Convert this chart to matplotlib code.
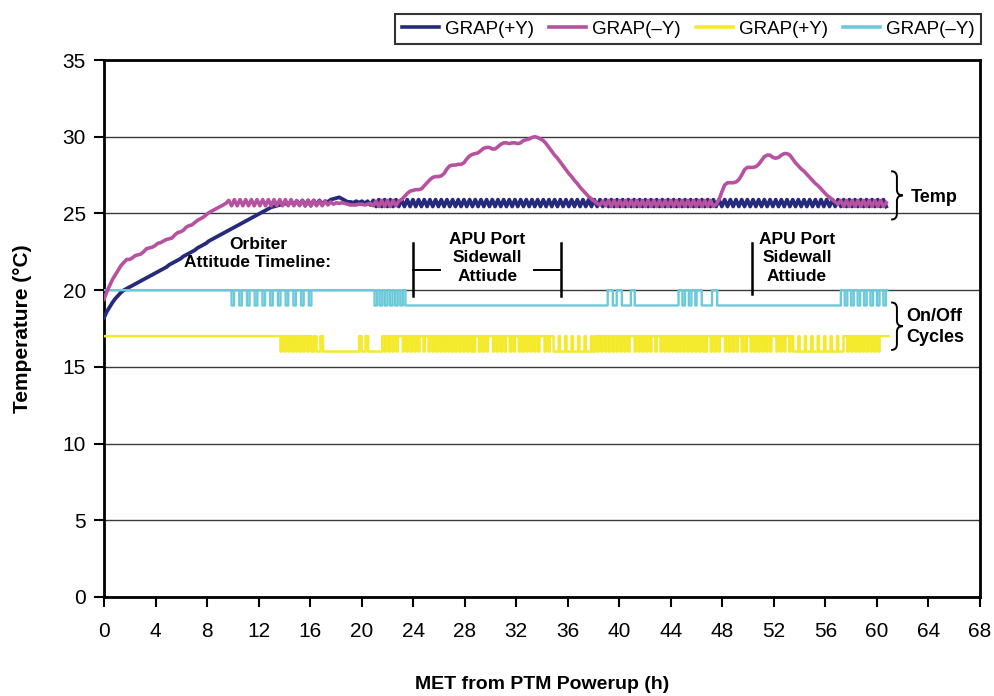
import numpy as np
import matplotlib
matplotlib.use('Agg')
import matplotlib.pyplot as plt
from matplotlib.path import Path
from matplotlib.patches import PathPatch
from matplotlib.lines import Line2D

plt.rcParams['font.family'] = ['Liberation Sans Narrow', 'Liberation Sans', 'DejaVu Sans']

# temperature traces, one reading every DT hours from MET 0
DT = 0.22
grap_py_temp = [
    18.2, 18.6, 18.9, 19.2, 19.45, 19.65, 19.85, 20.0, 20.1, 20.2,
    20.3, 20.4, 20.5, 20.6, 20.7, 20.8, 20.9, 21.0, 21.1, 21.2,
    21.3, 21.4, 21.5, 21.65, 21.75, 21.85, 21.95, 22.05, 22.2, 22.3,
    22.4, 22.5, 22.6, 22.75, 22.85, 22.95, 23.05, 23.2, 23.3, 23.4,
    23.5, 23.6, 23.7, 23.8, 23.9, 24.0, 24.1, 24.2, 24.3, 24.4,
    24.5, 24.6, 24.7, 24.8, 24.9, 25.0, 25.1, 25.2, 25.3, 25.4,
    25.45, 25.5, 25.55, 25.6, 25.65, 25.6, 25.75, 25.6, 25.8, 25.55,
    25.85, 25.5, 25.85, 25.5, 25.85, 25.55, 25.85, 25.6, 25.8, 25.75,
    25.9, 25.95, 26.0, 26.05, 25.95, 25.85, 25.75, 25.75, 25.7, 25.8,
    25.7, 25.8, 25.65, 25.8, 25.55, 25.85, 25.45, 25.9, 25.45, 25.9,
    25.45, 25.9, 25.45, 25.9, 25.45, 25.9, 25.45, 25.9, 25.45, 25.9,
    25.45, 25.9, 25.45, 25.9, 25.45, 25.9, 25.45, 25.9, 25.45, 25.9,
    25.45, 25.9, 25.45, 25.9, 25.45, 25.9, 25.45, 25.9, 25.45, 25.9,
    25.45, 25.9, 25.45, 25.9, 25.45, 25.9, 25.45, 25.9, 25.45, 25.9,
    25.45, 25.9, 25.45, 25.9, 25.45, 25.9, 25.45, 25.9, 25.45, 25.9,
    25.45, 25.9, 25.45, 25.9, 25.45, 25.9, 25.45, 25.9, 25.45, 25.9,
    25.45, 25.9, 25.45, 25.9, 25.45, 25.9, 25.45, 25.9, 25.45, 25.9,
    25.45, 25.9, 25.45, 25.9, 25.45, 25.9, 25.45, 25.9, 25.45, 25.9,
    25.45, 25.9, 25.45, 25.9, 25.45, 25.9, 25.45, 25.9, 25.45, 25.9,
    25.45, 25.9, 25.45, 25.9, 25.45, 25.9, 25.45, 25.9, 25.45, 25.9,
    25.45, 25.9, 25.45, 25.9, 25.45, 25.9, 25.45, 25.9, 25.45, 25.9,
    25.45, 25.9, 25.45, 25.9, 25.45, 25.9, 25.45, 25.9, 25.45, 25.9,
    25.45, 25.9, 25.45, 25.9, 25.45, 25.9, 25.45, 25.9, 25.45, 25.9,
    25.45, 25.9, 25.45, 25.9, 25.45, 25.9, 25.45, 25.9, 25.45, 25.9,
    25.45, 25.9, 25.45, 25.9, 25.45, 25.9, 25.45, 25.9, 25.45, 25.9,
    25.45, 25.9, 25.45, 25.9, 25.45, 25.9, 25.45, 25.9, 25.45, 25.9,
    25.45, 25.9, 25.45, 25.9, 25.45, 25.9, 25.45, 25.9, 25.45, 25.9,
    25.45, 25.9, 25.45, 25.9, 25.45, 25.9, 25.45,
]
grap_my_temp = [
    19.4, 19.9, 20.3, 20.7, 21.0, 21.3, 21.6, 21.8, 22.0, 22.0,
    22.1, 22.25, 22.3, 22.35, 22.5, 22.7, 22.75, 22.8, 22.9, 23.05,
    23.1, 23.2, 23.3, 23.35, 23.4, 23.6, 23.75, 23.8, 23.9, 24.1,
    24.2, 24.25, 24.4, 24.55, 24.65, 24.75, 24.9, 25.05, 25.15, 25.25,
    25.35, 25.45, 25.55, 25.65, 25.85, 25.5, 25.9, 25.5, 25.9, 25.5,
    25.9, 25.5, 25.9, 25.5, 25.9, 25.5, 25.9, 25.5, 25.9, 25.5,
    25.9, 25.5, 25.9, 25.5, 25.9, 25.5, 25.9, 25.5, 25.85, 25.5,
    25.85, 25.5, 25.85, 25.5, 25.85, 25.5, 25.8, 25.5, 25.8, 25.55,
    25.75, 25.6, 25.7, 25.65, 25.7, 25.65, 25.6, 25.55, 25.55, 25.55,
    25.6, 25.6, 25.55, 25.6, 25.65, 25.5, 25.8, 25.45, 25.85, 25.45,
    25.85, 25.45, 25.85, 25.5, 25.8, 25.9, 26.1, 26.3, 26.45, 26.5,
    26.55, 26.55, 26.6, 26.8, 27.0, 27.2, 27.35, 27.4, 27.4, 27.45,
    27.6, 27.9, 28.1, 28.15, 28.15, 28.2, 28.2, 28.3, 28.55, 28.75,
    28.85, 28.9, 28.95, 29.1, 29.25, 29.3, 29.3, 29.2, 29.2, 29.35,
    29.5, 29.6, 29.6, 29.55, 29.6, 29.6, 29.55, 29.6, 29.75, 29.8,
    29.85, 29.95, 30.0, 29.95, 29.85, 29.75, 29.55, 29.3, 29.05, 28.8,
    28.6, 28.35, 28.1, 27.85, 27.6, 27.4, 27.15, 26.95, 26.7, 26.5,
    26.3, 26.1, 25.95, 25.8, 25.65, 25.55, 25.8, 25.5, 25.85, 25.45,
    25.85, 25.45, 25.85, 25.45, 25.85, 25.45, 25.85, 25.45, 25.85, 25.45,
    25.85, 25.45, 25.85, 25.45, 25.85, 25.45, 25.85, 25.45, 25.85, 25.45,
    25.85, 25.45, 25.85, 25.45, 25.85, 25.45, 25.85, 25.45, 25.85, 25.45,
    25.85, 25.45, 25.85, 25.45, 25.85, 25.45, 25.6, 25.9, 26.4, 26.85,
    27.0, 27.0, 27.0, 27.05, 27.2, 27.5, 27.85, 28.0, 28.0, 28.0,
    28.05, 28.2, 28.45, 28.7, 28.8, 28.8, 28.65, 28.6, 28.65, 28.8,
    28.9, 28.9, 28.8, 28.55, 28.3, 28.1, 27.9, 27.75, 27.55, 27.35,
    27.15, 26.95, 26.8, 26.6, 26.4, 26.2, 26.05, 25.9, 25.75, 25.6,
    25.85, 25.45, 25.85, 25.45, 25.85, 25.45, 25.85, 25.45, 25.85, 25.45,
    25.85, 25.45, 25.85, 25.45, 25.85, 25.45, 25.7,
]

# heater on/off state, one character per 0.1 h (one group of ten per hour)
STATE_DT = 0.1
grap_my_cycle_levels = (19, 20)
grap_my_cycle = (
    "1111111111" "1111111111" "1111111111" "1111111111" "1111111111"
    "1111111111" "1111111111" "1111111111" "1111111111" "1111111110"
    "0111100111" "1001111001" "1110011110" "0111100111" "1001111001"
    "1110011110" "0111111111" "1111111111" "1111111111" "1111111111"
    "1111111111" "0011001100" "1100110011" "0011000000" "0000000000"
    "0000000000" "0000000000" "0000000000" "0000000000" "0000000000"
    "0000000000" "0000000000" "0000000000" "0000000000" "0000000000"
    "0000000000" "0000000000" "0000000000" "0000000000" "0111100011"
    "1100000001" "1100000000" "0000000000" "0000000000" "0000001110"
    "0111001110" "1111000000" "0011110000" "0000000000" "0000000000"
    "0000000000" "0000000000" "0000000000" "0000000000" "0000000000"
    "0000000000" "0000000000" "0011100111" "0011100111" "0011100111"
    "00111001"
)
grap_py_cycle_levels = (16, 17)
grap_py_cycle = (
    "1111111111" "1111111111" "1111111111" "1111111111" "1111111111"
    "1111111111" "1111111111" "1111111111" "1111111111" "1111111111"
    "1111111111" "1111111111" "1111111111" "1111111011" "0110110110"
    "1101101101" "1001100011" "0000000000" "0000000000" "0000000011"
    "0001100000" "0000001101" "1011011011" "1101101101" "1011011101"
    "1101101101" "1011011011" "0110110110" "1101101011" "1011011011"
    "1101101101" "1011101101" "1101101101" "1011011011" "1101101110"
    "0001000010" "0001000010" "0001000010" "0110110110" "1101101101"
    "1011011011" "1101101101" "1011011101" "1101101101" "1011011011"
    "0110110110" "1101101011" "1011011011" "1101101101" "1011101101"
    "1101101101" "1011011011" "1101101101" "1101100001" "0000100001"
    "0000100001" "0000100001" "0000111011" "0110110110" "1101101101"
    "101111111"
)

series_labels = ['GRAP(+Y)', 'GRAP(\u2013Y)', 'GRAP(+Y)', 'GRAP(\u2013Y)']
series_colors = ['#262a7c', '#b6529f', '#f4ea2a', '#6bcad9']

x_ticks = list(range(0, 69, 4))
y_ticks = list(range(0, 36, 5))


def state_series(states, levels):
    v = [levels[int(c)] for c in states]
    v.append(v[-1])
    t = np.arange(len(v)) * STATE_DT
    return t, v


def brace(ax, x, y_bot, y_top, w):
    ym = (y_bot + y_top) / 2
    h = (y_top - y_bot) * 0.12
    xm = x + w / 2
    verts = [(x, y_top), (xm, y_top), (xm, y_top - h),
             (xm, ym + h), (xm, ym), (x + w, ym),
             (xm, ym), (xm, ym - h),
             (xm, y_bot + h), (xm, y_bot), (x, y_bot)]
    codes = [Path.MOVETO, Path.CURVE3, Path.CURVE3,
             Path.LINETO, Path.CURVE3, Path.CURVE3,
             Path.CURVE3, Path.CURVE3,
             Path.LINETO, Path.CURVE3, Path.CURVE3]
    ax.add_patch(PathPatch(Path(verts, codes), fc='none', ec='black',
                           lw=1.4, clip_on=False))


fig = plt.figure(figsize=(9.94, 6.96), dpi=100)
ax = fig.add_axes([104 / 994, 1 - 597 / 696, (980 - 104) / 994, (597 - 60) / 696])

t_temp = np.arange(len(grap_py_temp)) * DT
ax.plot(t_temp, grap_py_temp, color=series_colors[0], lw=2.7, zorder=3)
ax.plot(t_temp, grap_my_temp, color=series_colors[1], lw=2.6, zorder=4)

t_y, v_y = state_series(grap_py_cycle, grap_py_cycle_levels)
ax.step(t_y, v_y, where='post', color=series_colors[2], lw=1.8, zorder=3)
t_c, v_c = state_series(grap_my_cycle, grap_my_cycle_levels)
ax.step(t_c, v_c, where='post', color=series_colors[3], lw=1.7, zorder=3)

ax.set_xlim(0, 68)
ax.set_ylim(0, 35)
ax.set_xticks(x_ticks)
ax.set_yticks(y_ticks)
ax.yaxis.grid(True, color='#3a3a3a', lw=1.0)
ax.set_axisbelow(True)
for s in ax.spines.values():
    s.set_linewidth(2.0)
    s.set_color('black')
ax.tick_params(axis='both', direction='out', length=7, width=1.5, labelsize=15)
ax.tick_params(axis='x', pad=11)
ax.tick_params(axis='y', pad=6)
ax.set_xlabel('MET from PTM Powerup (h)', fontsize=14, fontweight='bold', labelpad=25)
ax.set_ylabel('Temperature (\u00b0C)', fontsize=15, fontweight='bold', labelpad=22)

# orbiter attitude timeline annotations
bold = dict(fontsize=12.5, fontweight='bold', ha='center', va='center', linespacing=1.3)
ax.text(11.95, 22.4, 'Orbiter\nAttitude Timeline:', **bold)
ax.text(29.75, 22.1, 'APU Port\nSidewall\nAttiude', **bold)
ax.text(53.8, 22.1, 'APU Port\nSidewall\nAttiude', **bold)
ax.plot([24.0, 24.0], [19.6, 23.05], color='black', lw=1.8)
ax.plot([24.0, 26.1], [21.3, 21.3], color='black', lw=1.4)
ax.plot([35.5, 35.5], [19.6, 23.05], color='black', lw=1.8)
ax.plot([33.4, 35.5], [21.3, 21.3], color='black', lw=1.4)
ax.plot([50.3, 50.3], [19.75, 23.1], color='black', lw=1.8)

brace(ax, 61.1, 24.6, 27.75, 0.9)
ax.text(62.6, 26.05, 'Temp', fontsize=13, fontweight='bold', ha='left', va='center')
brace(ax, 61.1, 16.1, 19.2, 0.9)
ax.text(62.3, 17.6, 'On/Off\nCycles', fontsize=13, fontweight='bold', ha='left',
        va='center', linespacing=1.35)

handles = [Line2D([], [], color=c, lw=2.6) for c in series_colors]
leg = fig.legend(handles, series_labels, loc='upper right', ncol=4,
                 bbox_to_anchor=(981 / 994, 1 - 14 / 696), fontsize=13.5,
                 frameon=True, fancybox=False, edgecolor='black',
                 handlelength=2.0, handletextpad=0.3, columnspacing=0.8,
                 borderpad=0.35, borderaxespad=0)
leg.get_frame().set_linewidth(1.5)

fig.savefig('out.png', dpi=100)
